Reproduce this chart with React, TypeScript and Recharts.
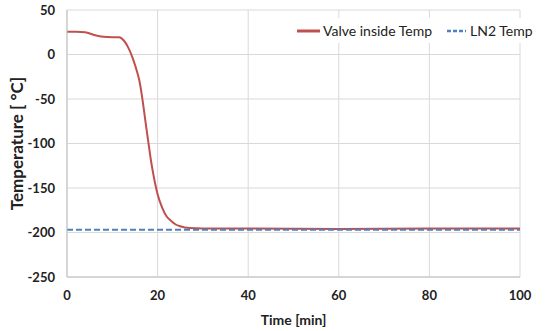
import { CartesianGrid, Line, LineChart, XAxis, YAxis } from "recharts";

const timeMin = [0, 2, 4, 6, 8, 10, 11.5, 12.5, 13.5, 14.5, 15.5, 16, 16.5, 17, 17.5, 18, 18.5, 19, 19.5, 20, 21, 22, 23, 24, 25, 27, 30, 40, 60, 80, 100];
const valveTemp = [25.5, 25.5, 25, 22, 20, 19.5, 19.5, 16, 8, -4, -20, -30, -45, -63, -82, -100, -118, -133, -146, -157, -172, -182, -187, -191, -193, -195, -195.5, -195.5, -196, -195.5, -195.5];
const ln2Time = [0, 100];
const ln2Temp = [-197, -197];
const xTicks = [0, 20, 40, 60, 80, 100];
const yTicks = [-250, -200, -150, -100, -50, 0, 50];

const valveData = timeMin.map((t, i) => ({ t, v: valveTemp[i] }));
const ln2Data = ln2Time.map((t, i) => ({ t, v: ln2Temp[i] }));

const font = "Lato, 'Open Sans', sans-serif";

function LegendBox() {
  return (
    <div
      style={{
        position: "absolute",
        left: 292,
        top: 18,
        background: "#fff",
        display: "flex",
        alignItems: "center",
        fontFamily: font,
        fontSize: 14,
        color: "#222",
        padding: "4px 4px",
        whiteSpace: "nowrap",
      }}
    >
      <svg width={25} height={10}>
        <line x1={1} y1={5} x2={24} y2={5} stroke="#c0504d" strokeWidth={3} />
      </svg>
      <span style={{ marginLeft: 2 }}>Valve inside Temp</span>
      <svg width={22} height={10} style={{ marginLeft: 14 }}>
        <line x1={1} y1={5} x2={20} y2={5} stroke="#4f81bd" strokeWidth={2.5} strokeDasharray="4 2" />
      </svg>
      <span style={{ marginLeft: 2 }}>LN2 Temp</span>
    </div>
  );
}

export default function App() {
  return (
    <div style={{ position: "absolute", left: 0, top: 0, width: 548, height: 331, background: "#fff" }}>
      <LineChart width={548} height={331} margin={{ top: 10, right: 28, left: 0, bottom: 24 }}>
        <CartesianGrid stroke="#d9d9d9" strokeWidth={1} />
        <XAxis
          type="number"
          dataKey="t"
          domain={[0, 100]}
          ticks={xTicks}
          allowDuplicatedCategory={false}
          stroke="#bfbfbf"
          tickLine={false}
          tickMargin={8}
          height={30}
          tick={{ fill: "#222", fontSize: 13, fontWeight: 700, fontFamily: font }}
          label={{ value: "Time [min]", position: "insideBottom", offset: -18, fill: "#222", fontSize: 14, fontWeight: 700, fontFamily: font }}
        />
        <YAxis
          type="number"
          domain={[-250, 50]}
          ticks={yTicks}
          stroke="#bfbfbf"
          tickLine={false}
          tickMargin={6}
          width={67}
          tick={{ fill: "#222", fontSize: 13, fontWeight: 700, fontFamily: font }}
          label={{ value: "Temperature  [ °C]", angle: -90, position: "insideLeft", offset: 17, style: { textAnchor: "middle" }, fill: "#222", fontSize: 17, fontWeight: 700, fontFamily: font }}
        />
        <Line
          data={valveData}
          dataKey="v"
          name="Valve inside Temp"
          type="monotone"
          stroke="#c0504d"
          strokeWidth={2}
          dot={false}
          isAnimationActive={false}
        />
        <Line
          data={ln2Data}
          dataKey="v"
          name="LN2 Temp"
          type="linear"
          stroke="#4f81bd"
          strokeWidth={2}
          strokeDasharray="6 3"
          dot={false}
          isAnimationActive={false}
        />
      </LineChart>
      <LegendBox />
    </div>
  );
}
